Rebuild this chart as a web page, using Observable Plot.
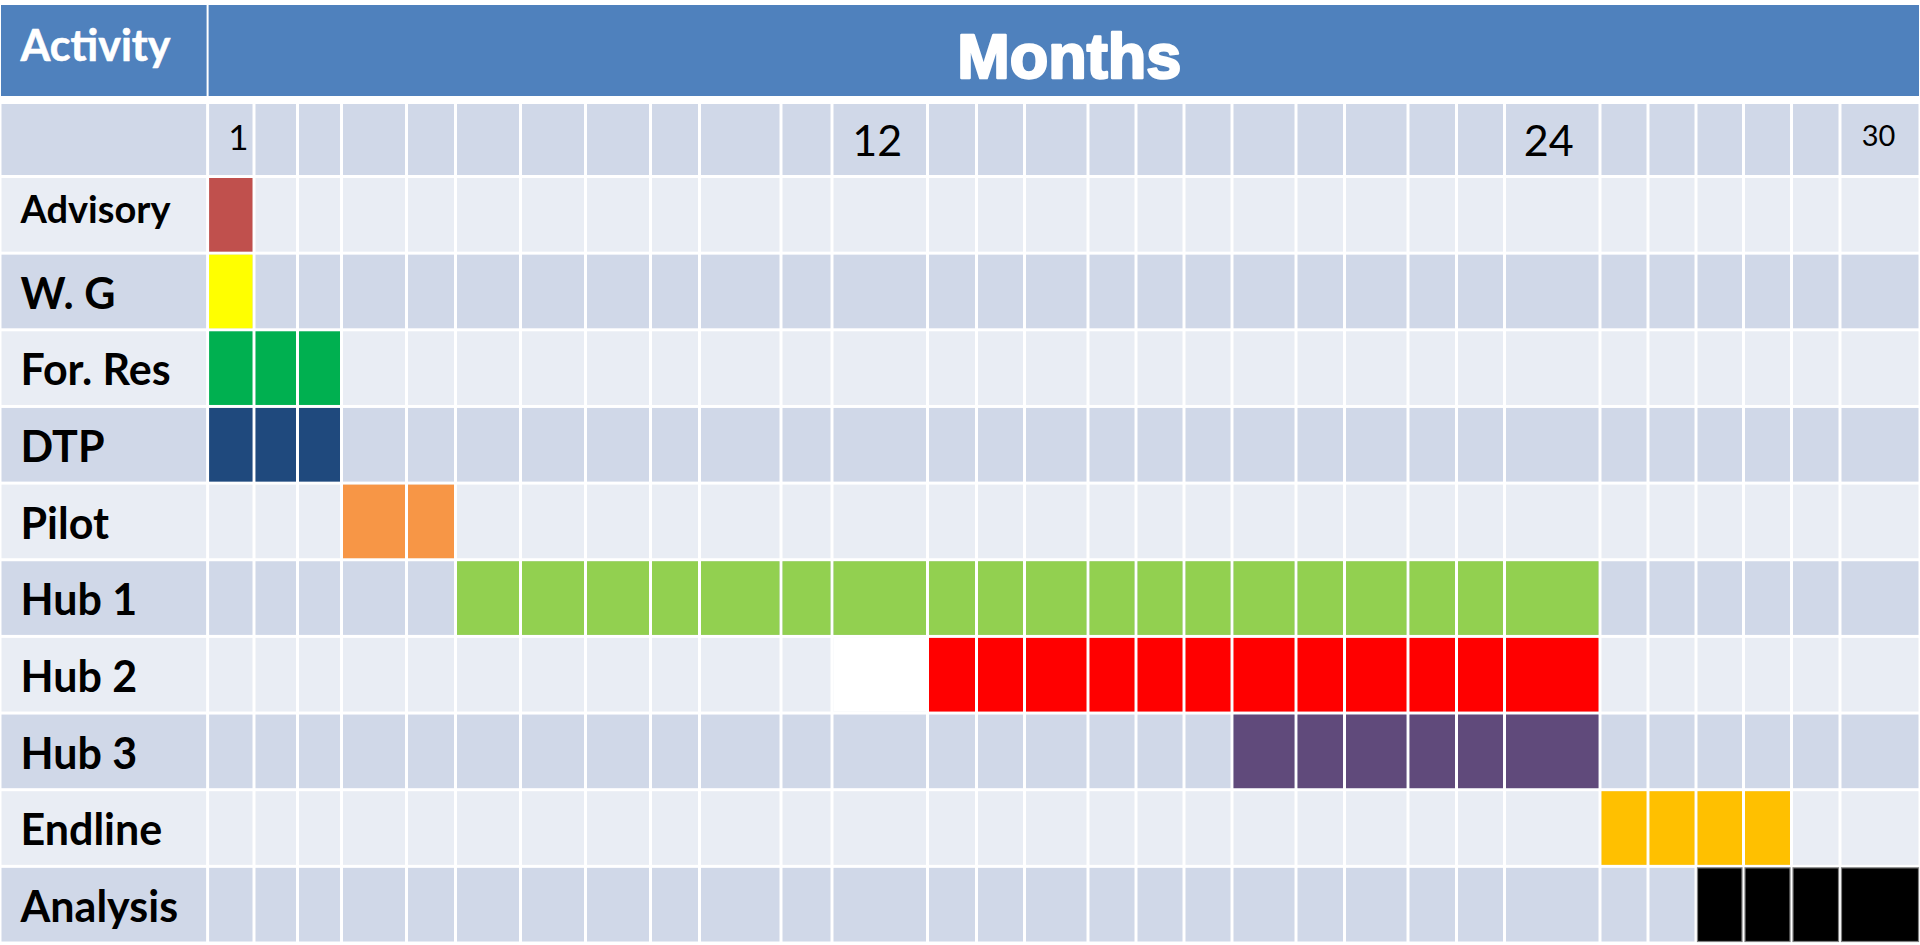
<!DOCTYPE html>
<html>
<head>
<meta charset="utf-8">
<script src="https://cdn.jsdelivr.net/npm/d3@7"></script>
<script src="https://cdn.jsdelivr.net/npm/@observablehq/plot@0.6"></script>
<style>
  html, body { margin: 0; padding: 0; background: #ffffff; overflow: hidden; }
  #chart svg { display: block; }
</style>
</head>
<body>
<div id="chart"></div>
<script>
// ---------------- DATA ----------------
const activities = ["Advisory", "W. G", "For. Res", "DTP", "Pilot", "Hub 1", "Hub 2", "Hub 3", "Endline", "Analysis"];
const startMonth = [1, 1, 1, 1, 4, 6, 13, 19, 25, 27];
const endMonth   = [1, 1, 3, 3, 5, 24, 24, 24, 28, 30];
const months = d3.range(1, 31);            // 30 month columns
const monthTicks = [1, 12, 24, 30];        // numbered month columns
const whiteCells = [{activity: "Hub 2", month: 12}];
const headerActivity = "Activity";
const headerMonths = "Months";

// ---------------- STYLE / LAYOUT ----------------
const W = 1920, H = 945;
const ACT_COL_W = 207.6;
const MONTH_COL_W = [46.4, 43.5, 44, 65, 49, 65, 65, 65, 49, 81.5, 51, 95.5, 49, 48, 63.5,
                     48, 48, 48, 64, 48.5, 63.5, 48.5, 48, 95.5, 48, 48, 47.5, 48, 48.5, 80];
const HEADER_Y = [5, 96];
const MONTHROW_Y = [102.5, 176.5];
const ROW_TOP = 176.5, ROW_PITCH = (943 - 176.5) / 10;
const DARK = "#D0D8E8", LIGHT = "#E9EDF4", HEAD = "#4F81BD";
const ACTIVITY_COLORS = {
  "Advisory": "#C0504D", "W. G": "#FFFF00", "For. Res": "#00B050", "DTP": "#1F497D",
  "Pilot": "#F79646", "Hub 1": "#92D050", "Hub 2": "#FF0000", "Hub 3": "#604A7B",
  "Endline": "#FFC000", "Analysis": "#000000"
};
const TICK_STYLE = {1: {size: 35, dy: -1, dx: 7}, 12: {size: 43, dy: 2, dx: -3}, 24: {size: 43, dy: 2, dx: -4}, 30: {size: 29, dy: -3, dx: -2}};
const LABEL_DEFAULT = {size: 43, weight: "bold", dy: 3};
const LABEL_OVERRIDE = {"Advisory": {size: 38, weight: "bold", dy: -4}};

// column edges (units of the x scale)
const colEdges = [0, ACT_COL_W];
MONTH_COL_W.forEach(w => colEdges.push(colEdges[colEdges.length - 1] + w));
const mx1 = m => colEdges[m];        // month m (1-based) left edge
const mx2 = m => colEdges[m + 1];
const ry1 = i => ROW_TOP + i * ROW_PITCH;
const ry2 = i => ROW_TOP + (i + 1) * ROW_PITCH;

// ---------------- TABLES ----------------
const grid = [];
grid.push({x1: 0, x2: ACT_COL_W, y1: MONTHROW_Y[0], y2: MONTHROW_Y[1], fill: DARK});
months.forEach(m => grid.push({x1: mx1(m), x2: mx2(m), y1: MONTHROW_Y[0], y2: MONTHROW_Y[1], fill: DARK}));
activities.forEach((a, i) => {
  const f = i % 2 === 0 ? LIGHT : DARK;
  grid.push({x1: 0, x2: ACT_COL_W, y1: ry1(i), y2: ry2(i), fill: f});
  months.forEach(m => grid.push({x1: mx1(m), x2: mx2(m), y1: ry1(i), y2: ry2(i), fill: f}));
});

const bars = [];
activities.forEach((a, i) => {
  for (let m = startMonth[i]; m <= endMonth[i]; m++) {
    bars.push({activity: a, month: m, x1: mx1(m), x2: mx2(m), y1: ry1(i), y2: ry2(i),
               fill: ACTIVITY_COLORS[a], stroke: a === "Analysis" ? "#808080" : "none"});
  }
});
const blanks = whiteCells.map(c => {
  const i = activities.indexOf(c.activity);
  return {x1: mx1(c.month), x2: mx2(c.month), y1: ry1(i), y2: ry2(i)};
});

const headers = [
  {x1: 0, x2: ACT_COL_W, y1: HEADER_Y[0], y2: HEADER_Y[1]},
  {x1: ACT_COL_W, x2: colEdges[colEdges.length - 1], y1: HEADER_Y[0], y2: HEADER_Y[1]}
];

const tickRows = monthTicks.map(m => ({label: String(m), x: (mx1(m) + mx2(m)) / 2,
  y: (MONTHROW_Y[0] + MONTHROW_Y[1]) / 2, ...TICK_STYLE[m]}));

const labelRows = activities.map((a, i) => ({label: a, x: 20, y: (ry1(i) + ry2(i)) / 2,
  ...LABEL_DEFAULT, ...(LABEL_OVERRIDE[a] || {})}));

// ---------------- MARKS ----------------
const marks = [
  Plot.rect(headers, {x1: "x1", x2: "x2", y1: "y1", y2: "y2", fill: HEAD, insetLeft: 1, insetRight: 1}),
  Plot.rect(grid, {x1: "x1", x2: "x2", y1: "y1", y2: "y2", fill: "fill", inset: 1.5}),
  Plot.rect(bars, {x1: "x1", x2: "x2", y1: "y1", y2: "y2", fill: "fill", stroke: "stroke", strokeWidth: 1.2, inset: 1.5}),
  Plot.rect(blanks, {x1: "x1", x2: "x2", y1: "y1", y2: "y2", fill: "#ffffff", inset: 1.5}),
  Plot.text([headerActivity], {x: [20], y: [(HEADER_Y[0] + HEADER_Y[1]) / 2], text: d => d,
    textAnchor: "start", fill: "#ffffff", stroke: "#ffffff", strokeWidth: 0.6,
    fontFamily: "Lato", fontWeight: "bold", fontSize: 43, dy: -4}),
  Plot.text([headerMonths], {x: [(ACT_COL_W + colEdges[colEdges.length - 1]) / 2 + 5], y: [(HEADER_Y[0] + HEADER_Y[1]) / 2],
    text: d => d, fill: "#ffffff", stroke: "#ffffff", strokeWidth: 2.5, strokeLinejoin: "round",
    fontFamily: "Liberation Sans", fontWeight: "bold", fontSize: 63, dy: 7})
];
tickRows.forEach(t => marks.push(Plot.text([t], {x: "x", y: "y", text: "label", fill: "#000000",
  fontFamily: "Lato", fontSize: t.size, dy: t.dy, dx: t.dx})));
labelRows.forEach(t => marks.push(Plot.text([t], {x: "x", y: "y", text: "label", fill: "#000000",
  textAnchor: "start", fontFamily: "Lato", fontWeight: t.weight, fontSize: t.size, dy: t.dy})));

const chart = Plot.plot({
  width: W, height: H, margin: 0,
  x: {domain: [0, colEdges[colEdges.length - 1]], range: [0, W], axis: null},
  y: {domain: [0, H], range: [0, H], axis: null},
  color: {type: "identity"},
  style: {background: "#ffffff"},
  marks
});
document.getElementById("chart").appendChild(chart);
</script>
</body>
</html>
